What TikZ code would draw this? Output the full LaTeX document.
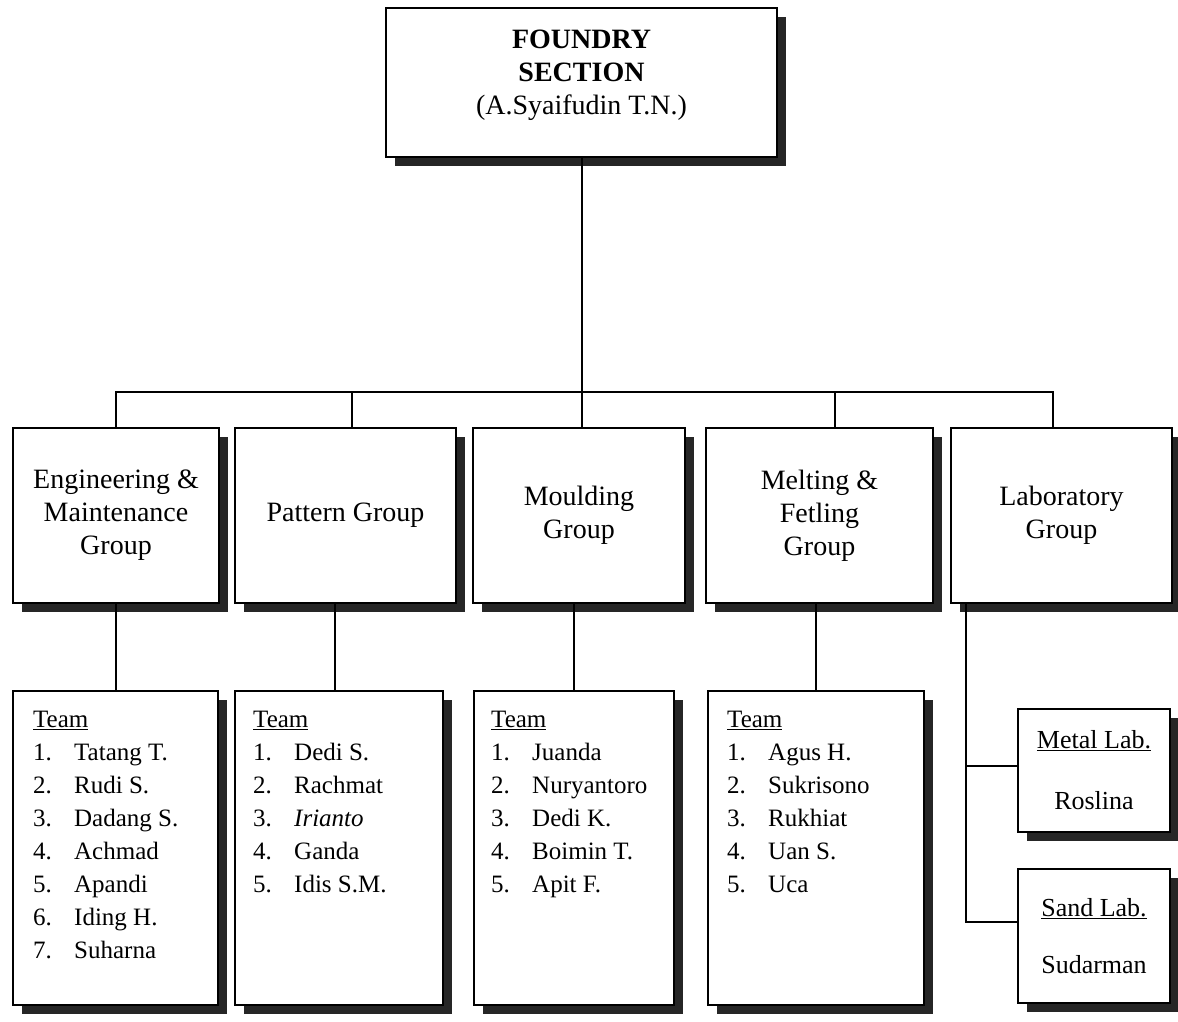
\documentclass[tikz,border=0pt]{standalone}
\usepackage{fontspec}
\setmainfont{Liberation Serif}
\usetikzlibrary{shadows}
\newcommand\tmember[2]{\makebox[41pt][l]{#1.}#2}
\tikzset{
  box/.style={draw, line width=1.6pt, fill=white, inner sep=2pt,
    drop shadow={shadow xshift=9pt, shadow yshift=-9pt, fill=black!85, opacity=1}},
  boxsize/.style 2 args={minimum width=#1pt, minimum height=#2pt},
  grp/.style={box, align=center, font=\fontsize{28}{33}\selectfont},
  lab/.style={box, align=center, font=\fontsize{26}{33}\selectfont},
  lst/.style={anchor=north west, align=left, inner sep=0pt, font=\fontsize{25}{33}\selectfont},
  link/.style={line width=2pt},
}

\begin{document}
\begin{tikzpicture}[x=1pt, y=-1pt]
  \useasboundingbox (0,0) rectangle (1178,1021);

  \node[grp, boxsize={391}{149}, font=\fontsize{28}{33}\selectfont\bfseries] (top) at (581.5,82.5)
    {FOUNDRY\\SECTION\\{\mdseries (A.Syaifudin T.N.)}\\[-12pt]\mbox{}};

  \node[grp, boxsize={206}{175}] (eng) at (116,515.5) {Engineering \&\\Maintenance\\Group};
  \node[grp, boxsize={221}{175}] (pat) at (345.5,515.5) {Pattern Group};
  \node[grp, boxsize={212}{175}] (mou) at (579,515.5) {Moulding\\Group};
  \node[grp, boxsize={227}{175}] (mel) at (819.5,515.5) {Melting \&\\Fetling\\Group};
  \node[grp, boxsize={221}{175}] (labg) at (1061.5,515.5) {Laboratory\\Group};

  \node[box, boxsize={205}{314}] (engT) at (115.5,848) {};
  \node[box, boxsize={208}{314}] (patT) at (339,848) {};
  \node[box, boxsize={200}{314}] (mouT) at (574,848) {};
  \node[box, boxsize={216}{314}] (melT) at (816,848) {};

  \node[lab, boxsize={152}{123}] (metal) at (1094,770.5) {\underline{Metal Lab.}\\[28pt]Roslina};
  \node[lab, boxsize={152}{134}] (sand) at (1094,936) {\underline{Sand Lab.}\\[24pt]Sudarman};

  \node[lst] (engL) at (33,711) {\underline{Team}\\\tmember{1}{Tatang T.}\\\tmember{2}{Rudi S.}\\
    \tmember{3}{Dadang S.}\\\tmember{4}{Achmad}\\\tmember{5}{Apandi}\\\tmember{6}{Iding H.}\\\tmember{7}{Suharna}};
  \node[lst] (patL) at (253,711) {\underline{Team}\\\tmember{1}{Dedi S.}\\\tmember{2}{Rachmat}\\
    \tmember{3}{\textit{Irianto}}\\\tmember{4}{Ganda}\\\tmember{5}{Idis S.M.}};
  \node[lst] (mouL) at (491,711) {\underline{Team}\\\tmember{1}{Juanda}\\\tmember{2}{Nuryantoro}\\
    \tmember{3}{Dedi K.}\\\tmember{4}{Boimin T.}\\\tmember{5}{Apit F.}};
  \node[lst] (melL) at (727,711) {\underline{Team}\\\tmember{1}{Agus H.}\\\tmember{2}{Sukrisono}\\
    \tmember{3}{Rukhiat}\\\tmember{4}{Uan S.}\\\tmember{5}{Uca}};

  % section to groups
  \draw[link] (top.south) -- (top.south |- mou.north);
  \draw[link] (eng.north) -- ++(0,-35) -| ([xshift=-9pt]labg.north);
  \draw[link] ([xshift=6.5pt]pat.north) -- ++(0,-35);
  \draw[link] ([xshift=15pt]mel.north) -- ++(0,-35);

  % groups to teams
  \draw[link] (eng.south) -- (eng.south |- engT.north);
  \draw[link] ([xshift=-4pt]patT.north) -- ([xshift=-4pt]patT.north |- pat.south);
  \draw[link] (mouT.north) -- (mouT.north |- mou.south);
  \draw[link] (melT.north) -- (melT.north |- mel.south);
  \draw[link] ([xshift=16pt]labg.south west) |- ([yshift=5pt]metal.west);
  \draw[link] ([xshift=16pt]labg.south west) |- ([yshift=14pt]sand.west);
\end{tikzpicture}
\end{document}
